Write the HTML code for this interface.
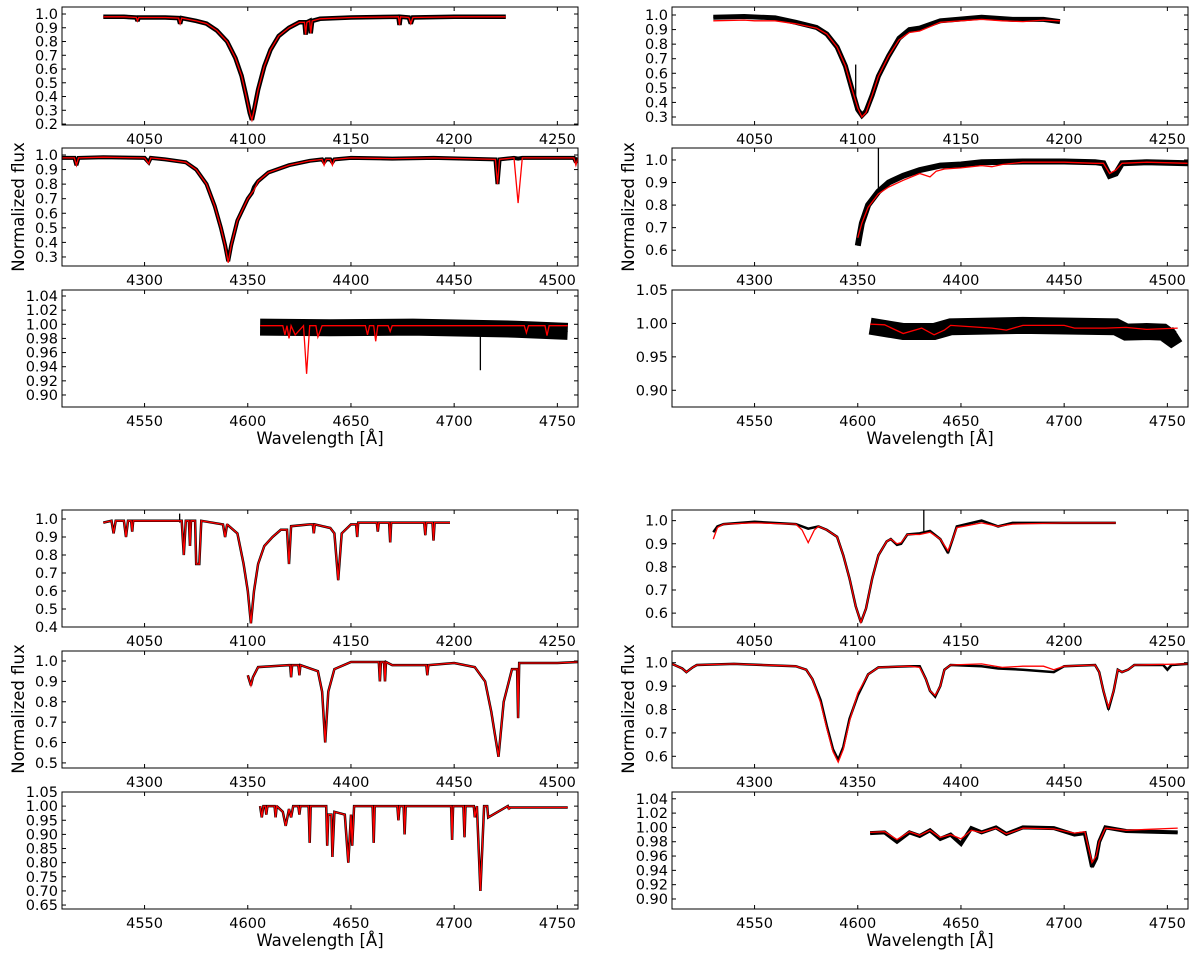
<!DOCTYPE html>
<html><head><meta charset="utf-8"><title>Spectral fits</title>
<style>
html,body{margin:0;padding:0;background:#fff;}
svg{display:block;font-family:"DejaVu Sans","Liberation Sans",sans-serif;}
</style></head>
<body>
<svg id="fig" width="1200" height="954" viewBox="0 0 1200 954"></svg>
<script>
// ---------- DATA ----------
const tl1Wl=[4030,4040,4046,4046.6,4047.2,4060,4066.5,4067.2,4068,4075,4080,4085,4090,4094,4097,4099,4101,4102,4103,4105,4108,4111,4115,4120,4125,4127.5,4128,4128.6,4130,4130.5,4131.2,4135,4150,4173,4173.5,4174,4178,4179,4180,4200,4225];
const tl1Model=[0.98,0.98,0.975,0.95,0.975,0.975,0.97,0.93,0.97,0.95,0.93,0.88,0.8,0.68,0.55,0.42,0.28,0.23,0.3,0.45,0.62,0.74,0.84,0.9,0.94,0.94,0.85,0.94,0.95,0.86,0.95,0.965,0.975,0.98,0.92,0.98,0.975,0.93,0.975,0.98,0.98];
const tl2Wl=[4260,4266,4267,4268,4280,4300,4302,4303,4310,4320,4325,4330,4334,4337,4339,4340.5,4342,4345,4350,4352,4353,4355,4360,4370,4380,4386,4387,4388,4390,4391,4392,4400,4420,4440,4470,4471,4472,4479,4481,4483,4500,4508,4509,4510];
const tl2Model=[0.98,0.98,0.93,0.98,0.985,0.98,0.94,0.98,0.97,0.95,0.9,0.8,0.65,0.5,0.38,0.26,0.38,0.55,0.7,0.74,0.76,0.82,0.88,0.93,0.96,0.97,0.93,0.97,0.97,0.93,0.97,0.98,0.975,0.98,0.97,0.8,0.97,0.98,0.67,0.98,0.98,0.98,0.93,0.98];
const tl2Obs=[0.98,0.98,0.93,0.98,0.985,0.98,0.95,0.98,0.97,0.95,0.9,0.8,0.65,0.5,0.38,0.27,0.38,0.55,0.7,0.74,0.78,0.82,0.88,0.93,0.96,0.97,0.95,0.97,0.97,0.95,0.97,0.98,0.975,0.98,0.97,0.8,0.97,0.98,0.975,0.98,0.98,0.98,0.95,0.98];
const tl3Wl=[4606,4617,4618,4619,4620,4621,4623,4627,4628.5,4630,4633,4634,4636,4657,4658,4659,4661,4662,4663,4668,4669,4670,4734,4735,4736,4744,4745,4746,4755];
const tl3Model=[0.998,0.998,0.985,0.998,0.98,0.998,0.985,0.998,0.93,0.998,0.998,0.982,0.998,0.998,0.985,0.998,0.998,0.976,0.998,0.998,0.99,0.998,0.998,0.988,0.998,0.998,0.984,0.998,0.998];
const tl3ObsWl=[4606,4640,4680,4730,4755];
const tl3Obs=[0.996,0.995,0.996,0.993,0.99];
const tr1Wl=[4030,4045,4050,4060,4070,4080,4085,4090,4094,4097,4100,4102,4104,4107,4110,4115,4120,4125,4130,4135,4140,4160,4170,4180,4190,4198];
const tr1Model=[0.96,0.965,0.96,0.96,0.94,0.91,0.87,0.78,0.65,0.5,0.36,0.3,0.33,0.45,0.58,0.72,0.83,0.88,0.89,0.92,0.95,0.97,0.96,0.955,0.965,0.96];
const tr1ObsWl=[4030,4045,4060,4070,4080,4085,4090,4094,4097,4100,4102,4104,4107,4110,4115,4120,4125,4130,4140,4160,4175,4190,4198];
const tr1Obs=[0.985,0.99,0.98,0.95,0.915,0.87,0.78,0.65,0.5,0.35,0.31,0.34,0.45,0.58,0.72,0.84,0.9,0.91,0.96,0.985,0.97,0.97,0.955];
const tr2Wl=[4350,4352,4355,4360,4365,4372,4380,4385,4388,4392,4400,4410,4415,4420,4430,4450,4465,4469,4472,4475,4478,4490,4510];
const tr2Model=[0.655,0.72,0.79,0.85,0.88,0.91,0.94,0.925,0.95,0.96,0.965,0.975,0.97,0.98,0.99,0.99,0.985,0.985,0.94,0.955,0.985,0.99,0.985];
const tr2ObsWl=[4350,4351,4352,4355,4360,4365,4372,4380,4390,4400,4410,4430,4450,4465,4469,4472,4475,4478,4490,4510];
const tr2Obs=[0.62,0.67,0.72,0.8,0.86,0.9,0.93,0.955,0.975,0.98,0.99,0.993,0.993,0.99,0.985,0.93,0.94,0.985,0.99,0.985];
const tr3Wl=[4606,4613,4622,4631,4637,4642,4645,4665,4672,4680,4700,4705,4720,4730,4740,4755];
const tr3Model=[0.999,0.998,0.985,0.993,0.983,0.99,0.997,0.993,0.99,0.997,0.997,0.993,0.993,0.994,0.991,0.993];
const tr3ObsWl=[4606,4622,4637,4645,4680,4725,4730,4740,4748,4752,4755];
const tr3Obs=[0.996,0.988,0.988,0.995,0.997,0.995,0.987,0.988,0.987,0.978,0.984];
const bl1Wl=[4030,4034,4035,4036,4040,4041,4042,4043.5,4044,4044.5,4060,4068,4069,4070,4071.5,4072,4072.5,4074.5,4075,4076.5,4077.5,4088,4089,4090,4095,4098,4100,4101.5,4103,4105,4108,4112,4116,4119,4120,4121,4130,4131.5,4132,4132.5,4140,4142,4143.8,4145.5,4150,4152.5,4153,4153.5,4162.5,4163,4163.5,4168.5,4169,4169.5,4185.5,4186,4186.5,4189.5,4190,4190.5,4198];
const bl1Model=[0.98,0.99,0.92,0.99,0.99,0.9,0.99,0.99,0.93,0.99,0.99,0.99,0.8,0.99,0.99,0.85,0.99,0.99,0.75,0.75,0.99,0.97,0.9,0.97,0.92,0.75,0.6,0.42,0.6,0.75,0.85,0.9,0.94,0.94,0.75,0.96,0.97,0.97,0.92,0.97,0.95,0.92,0.66,0.92,0.97,0.97,0.9,0.98,0.98,0.93,0.98,0.98,0.87,0.98,0.98,0.91,0.98,0.98,0.88,0.98,0.98];
const bl2Wl=[4350,4351.5,4352.5,4355,4370,4370.5,4371,4371.5,4374.5,4375,4375.5,4384,4386,4387.5,4389,4392,4400,4413.5,4414,4414.5,4416,4416.5,4417,4420,4436.5,4437,4437.5,4450,4460,4465,4468,4471.5,4474,4478,4480.5,4481,4481.5,4500,4510];
const bl2Model=[0.93,0.88,0.92,0.97,0.98,0.98,0.92,0.98,0.98,0.93,0.98,0.95,0.85,0.6,0.85,0.96,0.995,0.995,0.9,0.995,0.995,0.9,0.995,0.98,0.98,0.93,0.98,0.99,0.97,0.9,0.75,0.53,0.8,0.96,0.96,0.72,0.99,0.99,0.995];
const bl3Wl=[4606,4606.8,4607.6,4608.5,4609,4609.5,4613,4613.5,4614,4617,4618.4,4620,4621,4622,4624.5,4625,4625.5,4629.5,4630,4630.5,4638,4638.5,4639,4640.5,4641,4642,4647,4648.7,4650,4650.6,4651.5,4660.5,4661,4661.5,4672.5,4673,4673.5,4675.5,4676,4676.5,4698.5,4699,4699.5,4704.5,4705,4705.5,4709.5,4710,4711,4712.7,4714.5,4716,4716.5,4726,4726.5,4727,4755];
const bl3Model=[1.0,0.96,1.0,1.0,0.97,1.0,1.0,0.96,1.0,0.98,0.93,0.99,0.96,1.0,1.0,0.97,1.0,1.0,0.87,1.0,1.0,0.86,0.97,0.97,0.82,0.98,0.97,0.8,0.97,0.86,1.0,1.0,0.87,1.0,1.0,0.95,1.0,1.0,0.9,1.0,1.0,0.88,1.0,1.0,0.89,1.0,1.0,0.96,1.0,0.7,1.0,1.0,0.96,1.0,0.99,0.995,0.995];
const br1Wl=[4030,4032,4035,4050,4070,4073,4076,4079,4081,4085,4090,4093,4096,4099,4101.5,4104,4107,4110,4114,4116,4119,4121,4124,4130,4135,4140,4143.7,4146,4148,4160,4168,4175,4200,4225];
const br1Model=[0.92,0.97,0.985,0.99,0.985,0.96,0.905,0.96,0.975,0.96,0.93,0.85,0.75,0.63,0.56,0.62,0.75,0.85,0.91,0.92,0.9,0.905,0.94,0.94,0.95,0.92,0.87,0.92,0.97,0.99,0.975,0.985,0.99,0.99];
const br1ObsWl=[4030,4032,4035,4050,4070,4076,4081,4085,4090,4093,4096,4099,4101.5,4104,4107,4110,4114,4116,4119,4121,4124,4130,4135,4140,4143.7,4146,4148,4160,4168,4175,4200,4225];
const br1Obs=[0.95,0.975,0.985,0.995,0.985,0.965,0.975,0.96,0.93,0.85,0.75,0.63,0.56,0.62,0.75,0.85,0.91,0.92,0.895,0.9,0.94,0.945,0.955,0.92,0.86,0.92,0.975,1.0,0.975,0.99,0.99,0.99];
const br2Wl=[4260,4265,4267,4270,4272,4290,4320,4325,4328,4332,4335,4338,4340.5,4343,4346,4350,4355,4360,4375,4380,4383,4385,4387.5,4390,4392,4395,4410,4420,4430,4440,4445,4450,4465,4467,4469,4471.5,4474,4476,4478,4481,4484,4510];
const br2Model=[0.995,0.975,0.96,0.98,0.99,0.995,0.985,0.97,0.93,0.83,0.72,0.62,0.575,0.63,0.75,0.87,0.95,0.98,0.985,0.98,0.93,0.88,0.86,0.9,0.97,0.99,0.995,0.98,0.985,0.985,0.97,0.985,0.99,0.96,0.88,0.81,0.88,0.97,0.96,0.97,0.99,0.995];
const br2ObsWl=[4260,4265,4267,4270,4272,4290,4320,4325,4328,4332,4335,4338,4340.5,4343,4346,4350,4355,4360,4375,4380,4383,4385,4387.5,4390,4392,4395,4410,4418,4430,4445,4450,4465,4467,4469,4471.5,4474,4476,4478,4481,4484,4498,4500,4502,4510];
const br2Obs=[0.995,0.975,0.96,0.98,0.99,0.995,0.985,0.97,0.93,0.84,0.73,0.63,0.585,0.64,0.76,0.86,0.95,0.98,0.985,0.985,0.93,0.88,0.855,0.9,0.97,0.99,0.985,0.975,0.97,0.96,0.985,0.99,0.96,0.88,0.8,0.88,0.97,0.96,0.97,0.99,0.99,0.97,0.99,0.995];
const br3Wl=[4606,4613,4619,4625,4630,4635,4640,4645,4650,4655,4660,4667,4672,4680,4695,4705,4710,4711.5,4713.5,4715.5,4717,4720,4730,4755];
const br3Model=[0.993,0.994,0.983,0.994,0.989,0.996,0.986,0.99,0.984,0.996,0.993,0.999,0.991,0.999,0.998,0.992,0.994,0.975,0.951,0.96,0.98,0.999,0.996,0.999];
const br3Obs=[0.992,0.993,0.98,0.993,0.988,0.996,0.984,0.99,0.977,0.999,0.993,1.0,0.991,1.0,0.999,0.99,0.992,0.972,0.945,0.957,0.98,1.0,0.995,0.993];

// spikes / narrow observed features (wavelength, low, high)
const spikeWl=[4067,4099,4360,4132,4712.7];
const spikeLo=[0.98,0.35,0.86,0.95,0.935];
const spikeHi=[1.03,0.66,1.06,1.05,0.99];
const spikePanel=[6,3,4,9,2];

const ticksA=["0.2","0.3","0.4","0.5","0.6","0.7","0.8","0.9","1.0"];
const ticksB=["0.3","0.4","0.5","0.6","0.7","0.8","0.9","1.0"];
const ticksC=["0.90","0.92","0.94","0.96","0.98","1.00","1.02","1.04"];
const ticksD=["0.6","0.7","0.8","0.9","1.0"];
const ticksE=["0.90","0.95","1.00","1.05"];
const ticksF=["0.4","0.5","0.6","0.7","0.8","0.9","1.0"];
const ticksG=["0.5","0.6","0.7","0.8","0.9","1.0"];
const ticksH=["0.65","0.70","0.75","0.80","0.85","0.90","0.95","1.00","1.05"];
const xTicks1=[4050,4100,4150,4200,4250];
const xTicks2=[4300,4350,4400,4450,4500];
const xTicks3=[4550,4600,4650,4700,4750];

// ---------- LAYOUT ----------
const NS="http://www.w3.org/2000/svg";
const svg=document.getElementById('fig');
function mk(tag,attrs,parent){const e=document.createElementNS(NS,tag);for(const k in attrs)e.setAttribute(k,attrs[k]);(parent||svg).appendChild(e);return e;}

const colX=[62,672], W=516;
const rowsTop=[[7,125],[148,266],[290,407]];
const rowsBot=[[510,627],[651,768],[792,909]];
const xr=[[4010,4260],[4260,4510],[4510,4760]];
const xt=[xTicks1,xTicks2,xTicks3];

const panels=[
 {c:0,r:rowsTop[0],k:0,y:[0.193,1.051],yt:ticksA,wl:tl1Wl,m:tl1Model,ow:tl1Wl,o:tl1Model,nw:4.5,name:'star1-hdelta'},
 {c:0,r:rowsTop[1],k:1,y:[0.238,1.048],yt:ticksB,wl:tl2Wl,m:tl2Model,ow:tl2Wl,o:tl2Obs,nw:4,name:'star1-hgamma'},
 {c:0,r:rowsTop[2],k:2,y:[0.883,1.0485],yt:ticksC,wl:tl3Wl,m:tl3Model,ow:tl3ObsWl,o:tl3Obs,nw:17,name:'star1-heii'},
 {c:1,r:rowsTop[0],k:0,y:[0.245,1.055],yt:ticksB,wl:tr1Wl,m:tr1Model,ow:tr1ObsWl,o:tr1Obs,nw:5,name:'star2-hdelta'},
 {c:1,r:rowsTop[1],k:1,y:[0.53,1.053],yt:ticksD,wl:tr2Wl,m:tr2Model,ow:tr2ObsWl,o:tr2Obs,nw:6,name:'star2-hgamma'},
 {c:1,r:rowsTop[2],k:2,y:[0.875,1.05],yt:ticksE,wl:tr3Wl,m:tr3Model,ow:tr3ObsWl,o:tr3Obs,nw:17,name:'star2-heii'},
 {c:0,r:rowsBot[0],k:0,y:[0.4,1.05],yt:ticksF,wl:bl1Wl,m:bl1Model,ow:bl1Wl,o:bl1Model,nw:2.5,name:'star3-hdelta'},
 {c:0,r:rowsBot[1],k:1,y:[0.475,1.049],yt:ticksG,wl:bl2Wl,m:bl2Model,ow:bl2Wl,o:bl2Model,nw:2.5,name:'star3-hgamma'},
 {c:0,r:rowsBot[2],k:2,y:[0.636,1.05],yt:ticksH,wl:bl3Wl,m:bl3Model,ow:bl3Wl,o:bl3Model,nw:2.5,name:'star3-heii'},
 {c:1,r:rowsBot[0],k:0,y:[0.54,1.046],yt:ticksD,wl:br1Wl,m:br1Model,ow:br1ObsWl,o:br1Obs,nw:2.5,name:'star4-hdelta'},
 {c:1,r:rowsBot[1],k:1,y:[0.55,1.05],yt:ticksD,wl:br2Wl,m:br2Model,ow:br2ObsWl,o:br2Obs,nw:2.5,name:'star4-hgamma'},
 {c:1,r:rowsBot[2],k:2,y:[0.886,1.0495],yt:ticksC,wl:br3Wl,m:br3Model,ow:br3Wl,o:br3Obs,nw:4,name:'star4-heii'}
];

panels.forEach((p,pi)=>{
  const x0=colX[p.c], y0=p.r[0], y1=p.r[1], H=y1-y0;
  const [a,b]=xr[p.k];
  const X=w=>x0+(w-a)/(b-a)*W;
  const Y=v=>y1-(v-p.y[0])/(p.y[1]-p.y[0])*H;
  const g=mk('g',{});
  
  
  const cid='clip-'+p.name;
  const cp=mk('clipPath',{id:cid},g);
  mk('rect',{x:x0,y:y0,width:W,height:H},cp);
  const pts=p.ow.map((w,i)=>X(w).toFixed(1)+','+Y(p.o[i]).toFixed(1)).join(' ');
  const obs=mk('polyline',{points:pts,fill:'none',stroke:'#000','stroke-width':p.nw,'stroke-linejoin':'miter','stroke-miterlimit':2,'stroke-linecap':'butt','clip-path':'url(#'+cid+')'},g);
  
  
  const obsL=mk('polyline',{points:pts,fill:'none',stroke:'#000','stroke-width':1.2,'clip-path':'url(#'+cid+')'},g);
  
  
  spikeWl.forEach((w,i)=>{
    if(spikePanel[i]!==pi) return;
    const s=mk('line',{x1:X(w),x2:X(w),y1:Y(spikeLo[i]),y2:Y(spikeHi[i]),stroke:'#000','stroke-width':1.3,'clip-path':'url(#'+cid+')'},g);
    
    
  });
  const mod=mk('polyline',{points:p.wl.map((w,i)=>X(w).toFixed(1)+','+Y(p.m[i]).toFixed(1)).join(' '),fill:'none',stroke:'#ff0000','stroke-width':1.3,'clip-path':'url(#'+cid+')'},g);
  
  
  const fr=mk('rect',{x:x0,y:y0,width:W,height:H,fill:'none',stroke:'#000','stroke-width':1},g);
  
  
  xt[p.k].forEach(t=>{
    const x=X(t);
    mk('line',{x1:x,x2:x,y1:y1,y2:y1-4,stroke:'#000','stroke-width':1},g);
    mk('line',{x1:x,x2:x,y1:y0,y2:y0+4,stroke:'#000','stroke-width':1},g);
    const tx=mk('text',{x:x,y:y1+19,'text-anchor':'middle','font-size':14.5,fill:'#000'},g);
    tx.textContent=t;
    
    
  });
  p.yt.forEach(t=>{
    const y=Y(parseFloat(t));
    mk('line',{x1:x0,x2:x0+4,y1:y,y2:y,stroke:'#000','stroke-width':1},g);
    mk('line',{x1:x0+W,x2:x0+W-4,y1:y,y2:y,stroke:'#000','stroke-width':1},g);
    const ty=mk('text',{x:x0-4,y:y+5,'text-anchor':'end','font-size':14.5,fill:'#000'},g);
    ty.textContent=t;
    
    
  });
});

[[24,207],[634,207],[24,709],[634,709]].forEach(([x,y])=>{
  const t=mk('text',{x:x,y:y,'text-anchor':'middle','font-size':16.5,transform:'rotate(-90 '+x+' '+y+')'});
  t.textContent='Normalized flux';
  
  
});
[[320,444],[930,444],[320,946],[930,946]].forEach(([x,y])=>{
  const t=mk('text',{x:x,y:y,'text-anchor':'middle','font-size':16.5});
  t.textContent='Wavelength [Å]';
  
  
});
</script>
</body></html>
